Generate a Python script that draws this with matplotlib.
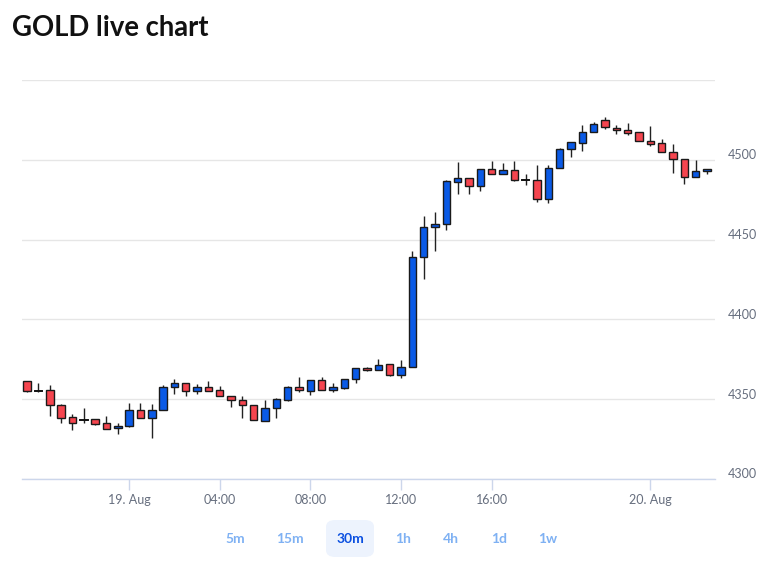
import matplotlib
matplotlib.use("Agg")
import matplotlib.pyplot as plt
from matplotlib.patches import Rectangle, FancyBboxPatch
from matplotlib.transforms import ScaledTranslation

# 30 minute candles, 18 Aug 19:30 -> 20 Aug 02:00 (one hour market break skipped)
opens = [4361.1, 4355.2, 4355.6, 4346.4, 4338.8, 4337.1, 4337.3, 4335.2, 4331.7, 4333.3,
         4343.5, 4338.5, 4343.5, 4357.7, 4360.4, 4355.4, 4357.7, 4355.6, 4352.1, 4349.2,
         4346.4, 4336.5, 4344.2, 4349.4, 4357.7, 4355.2, 4361.9, 4356.0, 4357.3, 4362.5,
         4369.8, 4368.1, 4371.9, 4365.4, 4370.4, 4439.2, 4457.9, 4459.6, 4486.0, 4488.5,
         4483.8, 4494.2, 4491.3, 4493.3, 4487.1, 4487.1, 4475.6, 4494.8, 4506.7, 4510.8,
         4517.7, 4525.0, 4520.0, 4518.5, 4517.3, 4511.7, 4510.4, 4504.8, 4500.4, 4489.2,
         4492.7]
highs = [4361.1, 4360.0, 4358.6, 4347.3, 4340.6, 4344.4, 4337.5, 4339.6, 4335.4, 4347.5,
         4347.9, 4347.3, 4358.8, 4362.9, 4360.4, 4359.4, 4361.4, 4358.0, 4352.1, 4351.7,
         4346.4, 4349.4, 4350.5, 4358.0, 4364.2, 4362.1, 4364.0, 4360.4, 4362.5, 4369.6,
         4370.2, 4375.0, 4371.9, 4374.6, 4443.1, 4464.6, 4467.1, 4487.5, 4498.5, 4488.5,
         4494.2, 4499.4, 4497.9, 4499.4, 4491.0, 4496.5, 4497.0, 4507.2, 4511.3, 4521.9,
         4523.5, 4526.7, 4521.5, 4522.9, 4517.3, 4521.3, 4513.1, 4509.8, 4500.4, 4500.0,
         4494.2]
lows = [4354.4, 4354.2, 4339.6, 4335.0, 4330.8, 4335.0, 4334.0, 4331.3, 4328.5, 4332.7,
        4338.5, 4325.6, 4343.5, 4353.1, 4352.1, 4353.1, 4355.4, 4351.9, 4345.2, 4338.3,
        4336.7, 4336.5, 4338.3, 4349.0, 4354.2, 4352.5, 4356.0, 4354.6, 4356.5, 4360.0,
        4367.6, 4368.1, 4364.6, 4363.1, 4370.4, 4425.0, 4443.1, 4455.8, 4478.5, 4478.5,
        4480.6, 4491.3, 4491.3, 4487.0, 4484.4, 4473.3, 4473.0, 4494.8, 4502.0, 4505.8,
        4517.7, 4519.4, 4516.0, 4515.6, 4511.5, 4508.8, 4504.6, 4491.7, 4484.8, 4489.2,
        4491.3]
closes = [4355.2, 4355.2, 4346.4, 4338.5, 4335.0, 4337.1, 4334.2, 4331.3, 4333.5, 4343.5,
          4338.5, 4343.5, 4357.7, 4360.4, 4355.4, 4357.7, 4355.4, 4351.9, 4349.2, 4346.4,
          4336.7, 4344.4, 4350.0, 4357.7, 4355.6, 4362.1, 4356.0, 4357.7, 4362.5, 4369.6,
          4368.1, 4371.7, 4365.2, 4370.4, 4439.2, 4458.1, 4459.8, 4486.5, 4488.3, 4483.8,
          4494.2, 4491.3, 4493.3, 4487.5, 4487.1, 4475.6, 4494.8, 4506.7, 4511.0, 4517.7,
          4522.3, 4520.8, 4518.5, 4516.9, 4511.5, 4510.2, 4504.6, 4500.4, 4489.2, 4492.7,
          4494.2]

tick_index = [9, 17, 25, 33, 41, 55]
tick_labels = ["19. Aug", "04:00", "08:00", "12:00", "16:00", "20. Aug"]
y_ticks = [4300, 4350, 4400, 4450, 4500, 4550]
ranges = ["5m", "15m", "30m", "1h", "4h", "1d", "1w"]
active_range = "30m"

up_color = "#0a5ae6"
down_color = "#f5454f"
edge = "#1a1a1a"
label_color = "#666e7e"

fig = plt.figure(figsize=(7.82, 5.69), dpi=100)
ax = fig.add_axes([22 / 782, 1 - 479 / 569, (715 - 22) / 782, (479 - 80) / 569])

body_w = 0.66
for i, (o, h, l, c) in enumerate(zip(opens, highs, lows, closes)):
    ax.plot([i, i], [l, h], color="#222222", lw=1.0, zorder=2, solid_capstyle="butt")
    if o == c:
        ax.plot([i - body_w / 2, i + body_w / 2], [o, o], color="#111111", lw=1.4, zorder=3)
        continue
    col = up_color if c > o else down_color
    ax.add_patch(Rectangle((i - body_w / 2, min(o, c)), body_w, abs(c - o),
                           facecolor=col, edgecolor=edge, lw=1.0, zorder=3))

ax.set_xlim(-0.45, 60.7)
ax.set_ylim(4300, 4550)

ax.set_yticks(y_ticks)
ax.set_yticklabels([str(v) if v < 4550 else "" for v in y_ticks])
ax.yaxis.tick_right()
ax.tick_params(axis="y", length=0, pad=9, labelsize=9, labelcolor=label_color)
for lab in ax.get_yticklabels():
    lab.set_transform(lab.get_transform() + ScaledTranslation(0, 4 / 72, fig.dpi_scale_trans))
    lab.set_fontfamily("Lato")

ax.set_xticks(tick_index)
ax.set_xticklabels(tick_labels, fontfamily="Lato")
ax.tick_params(axis="x", length=8, width=1, color="#ccd6eb", pad=3,
               labelsize=9, labelcolor=label_color)

ax.grid(axis="y", color="#e6e6e6", lw=1)
ax.set_axisbelow(True)
for s in ["top", "left", "right"]:
    ax.spines[s].set_visible(False)
ax.spines["bottom"].set_color("#ccd6eb")
ax.spines["bottom"].set_linewidth(1)

fig.text(12 / 782, 1 - 28 / 569, "GOLD live chart", fontsize=19.8, fontweight="bold",
         fontfamily="Lato", color="#111111", va="center", ha="left")

# range selector buttons
btn_x = [235, 290, 350, 403, 451, 499, 548]
for name, bx in zip(ranges, btn_x):
    if name == active_range:
        fig.patches.append(FancyBboxPatch((326 / 782, 1 - 557 / 569), 48 / 782, 37 / 569,
                                          boxstyle="round,pad=0,rounding_size=0.012",
                                          transform=fig.transFigure, facecolor="#edf3fd",
                                          edgecolor="none"))
        fig.text(bx / 782, 1 - 539 / 569, name, fontsize=10, fontweight="bold",
                 fontfamily="Lato", color="#0a4fe0", ha="center", va="center")
    else:
        fig.text(bx / 782, 1 - 539 / 569, name, fontsize=10, fontweight="bold",
                 fontfamily="Lato", color="#7fb1f3", ha="center", va="center")

fig.savefig("out.png", dpi=100)
